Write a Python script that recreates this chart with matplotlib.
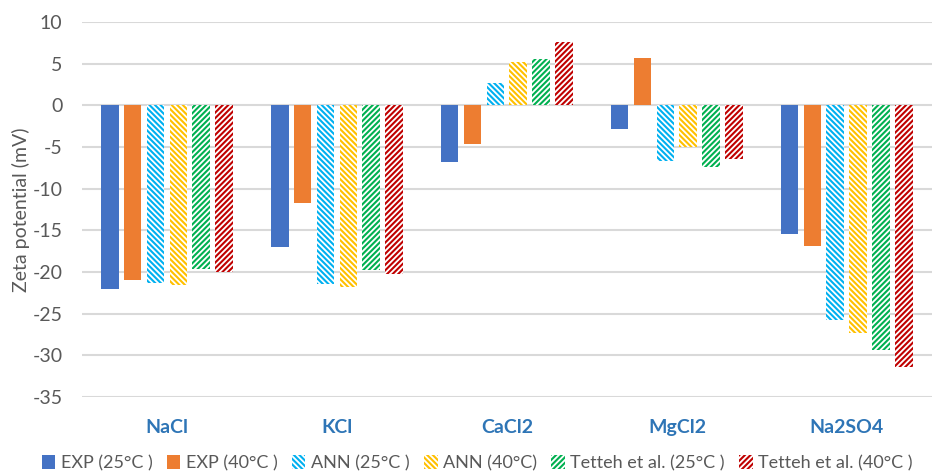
import numpy as np
import matplotlib.pyplot as plt

# %% data
salts = ['NaCl', 'KCl', 'CaCl2', 'MgCl2', 'Na2SO4']
series = ['EXP (25°C )', 'EXP (40°C )', 'ANN (25°C )', 'ANN (40°C)',
          'Tetteh et al. (25°C )', 'Tetteh et al. (40°C )']
exp25 = [-22.0, -17.0, -6.8, -2.9, -15.5]
exp40 = [-20.9, -11.7, -4.7, 5.7, -16.9]
ann25 = [-21.3, -21.4, 2.7, -6.7, -25.7]
ann40 = [-21.5, -21.8, 5.2, -5.0, -27.3]
tet25 = [-19.6, -19.8, 5.5, -7.4, -29.4]
tet40 = [-20.0, -20.2, 7.6, -6.5, -31.4]
yticks = [10, 5, 0, -5, -10, -15, -20, -25, -30, -35]

# %% plot
plt.rcParams['font.family'] = ['Lato', 'DejaVu Sans']
plt.rcParams['hatch.linewidth'] = 1.5

colors = ['#4472C4', '#ED7D31', '#00B0F0', '#FFC000', '#00B050', '#C00000']
hatches = [None, None, '\\' * 6, '\\' * 6, '/' * 6, '/' * 6]
values = [exp25, exp40, ann25, ann40, tet25, tet40]

fig = plt.figure(figsize=(9.36, 4.75), dpi=100)
ax = fig.add_axes([0.0876, 0.164, 0.908, 0.79])

x = np.arange(len(salts))
step = 0.135
width = 0.105
for i, (vals, c, h, lab) in enumerate(zip(values, colors, hatches, series)):
    pos = x + (i - 2.5) * step
    if h is None:
        ax.bar(pos, vals, width, color=c, label=lab, zorder=3)
    else:
        ax.bar(pos, vals, width, facecolor='white', edgecolor=c, hatch=h,
               linewidth=0, label=lab, zorder=3)

ax.set_ylim(-35, 10)
ax.set_xlim(-0.5, len(salts) - 0.5)
ax.set_yticks(yticks)
ax.set_yticklabels([str(t) for t in yticks])
ax.set_xticks(x)
ax.set_xticklabels(salts, fontweight='bold', color='#2E75B6', fontsize=14)
ax.tick_params(axis='y', colors='#595959', labelsize=14, length=0, pad=14)
ax.tick_params(axis='x', length=0, pad=16)
ax.grid(axis='y', color='#D9D9D9', linewidth=1.5, zorder=0)
for s in ax.spines.values():
    s.set_visible(False)
ax.set_ylabel('Zeta potential (mV)', color='#595959', fontsize=14, labelpad=2)

ax.legend(loc='center', bbox_to_anchor=(0.465, -0.176), ncol=6,
          frameon=False, fontsize=13, labelcolor='#595959',
          handlelength=0.75, handleheight=0.75, handletextpad=0.3,
          columnspacing=0.8, borderpad=0)

plt.savefig('out.png', dpi=100)
